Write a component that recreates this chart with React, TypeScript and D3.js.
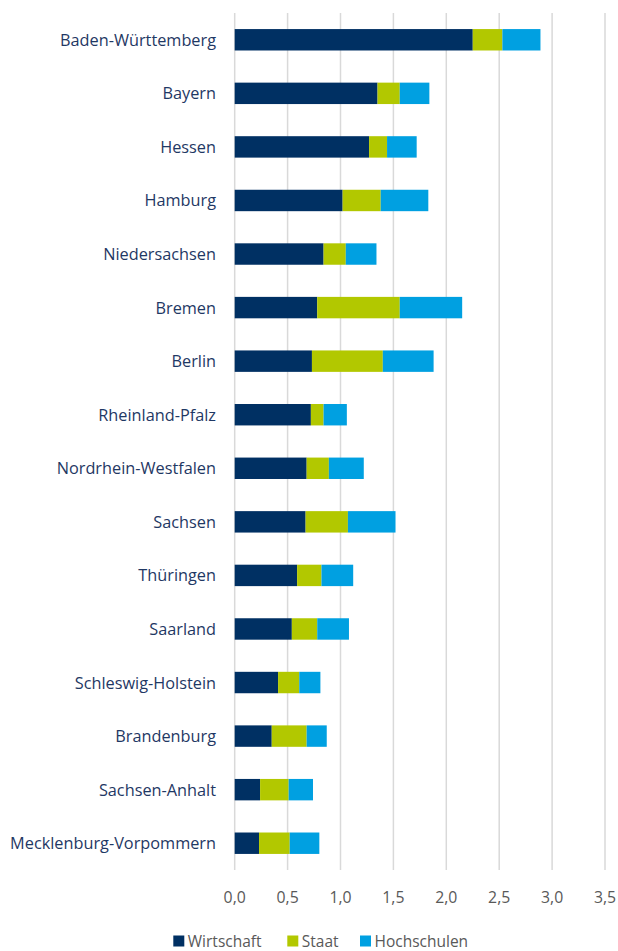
import React from "react";
import * as d3 from "d3";

const states = [
  "Baden-Württemberg",
  "Bayern",
  "Hessen",
  "Hamburg",
  "Niedersachsen",
  "Bremen",
  "Berlin",
  "Rheinland-Pfalz",
  "Nordrhein-Westfalen",
  "Sachsen",
  "Thüringen",
  "Saarland",
  "Schleswig-Holstein",
  "Brandenburg",
  "Sachsen-Anhalt",
  "Mecklenburg-Vorpommern",
];
const wirtschaft = [2.25, 1.35, 1.27, 1.02, 0.84, 0.78, 0.73, 0.72, 0.68, 0.67, 0.59, 0.54, 0.41, 0.35, 0.24, 0.23];
const staat = [0.28, 0.21, 0.17, 0.36, 0.21, 0.78, 0.67, 0.12, 0.21, 0.40, 0.23, 0.24, 0.20, 0.33, 0.27, 0.29];
const hochschulen = [0.36, 0.28, 0.28, 0.45, 0.29, 0.59, 0.48, 0.22, 0.33, 0.45, 0.30, 0.30, 0.20, 0.19, 0.23, 0.28];
const seriesNames = ["Wirtschaft", "Staat", "Hochschulen"];
const seriesColors = ["#003063", "#B2C800", "#00A0E1"];
const ticks = [0, 0.5, 1, 1.5, 2, 2.5, 3, 3.5];

const W = 618;
const H = 951;
const FONT = "'Open Sans', 'Noto Sans', sans-serif";

export default function App() {
  const x = d3.scaleLinear().domain([0, 3.5]).range([234.7, 605]);
  const y = d3.scaleBand().domain(states).range([13, 870]).paddingInner(0.6).paddingOuter(0.3);

  const table = states.map((s, i) => ({
    state: s,
    Wirtschaft: wirtschaft[i],
    Staat: staat[i],
    Hochschulen: hochschulen[i],
  }));
  const stack = d3.stack<any>().keys(seriesNames)(table);

  const fmt = (v: number) => d3.format(".1f")(v).replace(".", ",");

  const legendX = [173.3, 287.3, 360];

  return (
    <svg
      width={W}
      height={H}
      style={{ position: "absolute", left: 0, top: 0, background: "#fff" }}
      fontFamily={FONT}
    >
      {ticks.map((t) => (
        <line key={t} x1={x(t)} x2={x(t)} y1={13} y2={870} stroke="#D9D9D9" strokeWidth={1.5} />
      ))}
      {stack.map((layer, si) => (
        <g key={seriesNames[si]} fill={seriesColors[si]}>
          {layer.map((d: any, i: number) => (
            <rect
              key={i}
              x={x(d[0])}
              y={y(states[i])}
              width={x(d[1]) - x(d[0])}
              height={y.bandwidth()}
            />
          ))}
        </g>
      ))}
      {states.map((s) => (
        <text
          key={s}
          x={216}
          y={(y(s) as number) + y.bandwidth() / 2}
          textAnchor="end"
          dominantBaseline="central"
          fontSize={16.3}
          fill="#1F3864"
        >
          {s}
        </text>
      ))}
      {ticks.map((t) => (
        <text key={t} x={x(t)} y={897} textAnchor="middle" dominantBaseline="central" fontSize={15.8} fill="#595959">
          {fmt(t)}
        </text>
      ))}
      {seriesNames.map((n, i) => (
        <g key={n}>
          <rect x={legendX[i]} y={935.5} width={11} height={11} fill={seriesColors[i]} />
          <text x={legendX[i] + 14.5} y={940.5} dominantBaseline="central" fontSize={15.5} fill="#595959">
            {n}
          </text>
        </g>
      ))}
    </svg>
  );
}
